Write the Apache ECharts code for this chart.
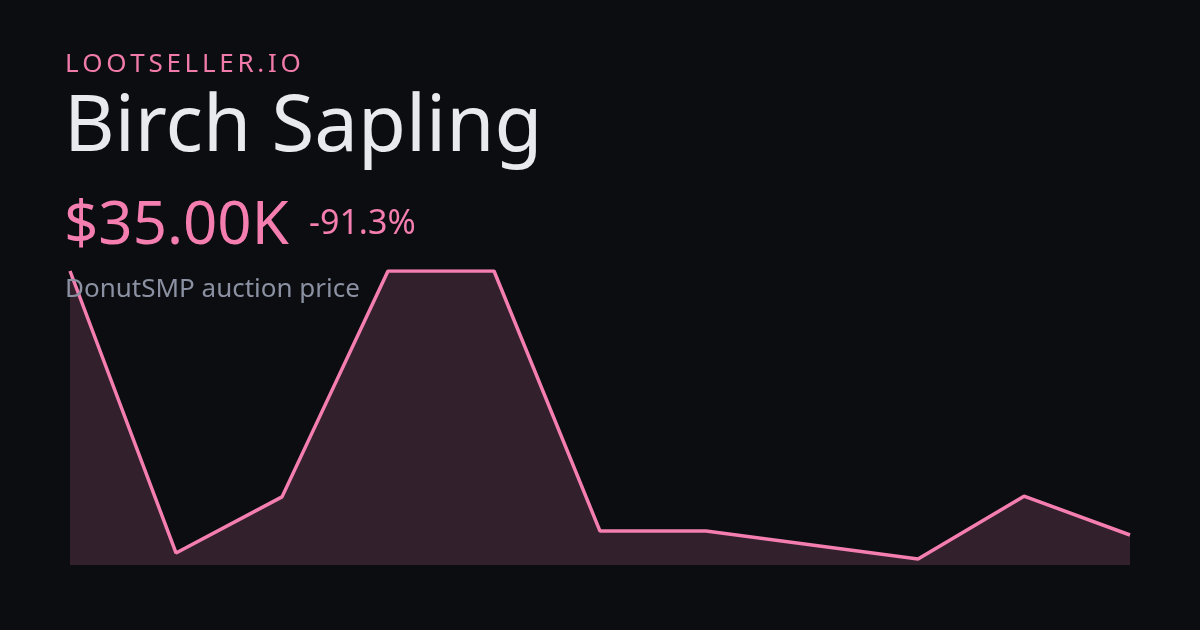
<!DOCTYPE html>
<html><head><meta charset="utf-8">
<script src="https://cdn.jsdelivr.net/npm/echarts@6/dist/echarts.min.js"></script>
<style>html,body{margin:0;padding:0;background:#0c0d10;}#c{width:1200px;height:630px;}</style>
</head><body><div id="c"></div>
<script>
const brand = 'LOOTSELLER.IO';
const itemName = 'Birch Sapling';
const priceLabel = '$35.00K';
const changeLabel = '-91.3%';
const subtitle = 'DonutSMP auction price';
const days = ['1','2','3','4','5','6','7','8','9','10','11'];
const pricesK = [402, 10, 88, 402, 402, 40.5, 40.5, 21, 1.6, 89, 35];

const FONT = '"Noto Sans", "Open Sans", sans-serif';
const chart = echarts.init(document.getElementById('c'), null, {renderer: 'canvas'});

// letter-spaced brand text
const ctx = document.createElement('canvas').getContext('2d');
ctx.font = '26px ' + FONT;
const brandEls = [];
let bx = 65;
for (const ch of brand) {
  brandEls.push({type: 'text', x: bx, y: 52, z: 100, style: {text: ch, fill: '#f07aaa', font: '26px ' + FONT}});
  bx += ctx.measureText(ch).width + 3.7;
}

chart.setOption({
  backgroundColor: '#0c0d10',
  animation: false,
  grid: {left: 70, right: 70, top: 271, bottom: 65},
  xAxis: {type: 'category', data: days, boundaryGap: false, show: false},
  yAxis: {type: 'value', min: -6.7, max: 402, show: false},
  series: [{
    type: 'line', data: pricesK, symbol: 'none', z: 2,
    lineStyle: {color: '#f47eb0', width: 3.5},
    areaStyle: {color: '#33202d', opacity: 1, origin: 'start'}
  }],
  graphic: brandEls.concat([
    {type: 'text', x: 64, y: 90, z: 100, style: {text: itemName, fill: '#e9eaee', font: '78px ' + FONT}},
    {type: 'text', x: 64, y: 197, z: 100, style: {text: priceLabel, fill: '#f47eb0', font: '60px ' + FONT}},
    {type: 'text', x: 309, y: 207, z: 100, style: {text: changeLabel, fill: '#f47eb0', font: '34px ' + FONT}},
    {type: 'text', x: 65, y: 277, z: 100, style: {text: subtitle, fill: '#8b91a2', font: '26px ' + FONT}}
  ])
});
</script></body></html>
